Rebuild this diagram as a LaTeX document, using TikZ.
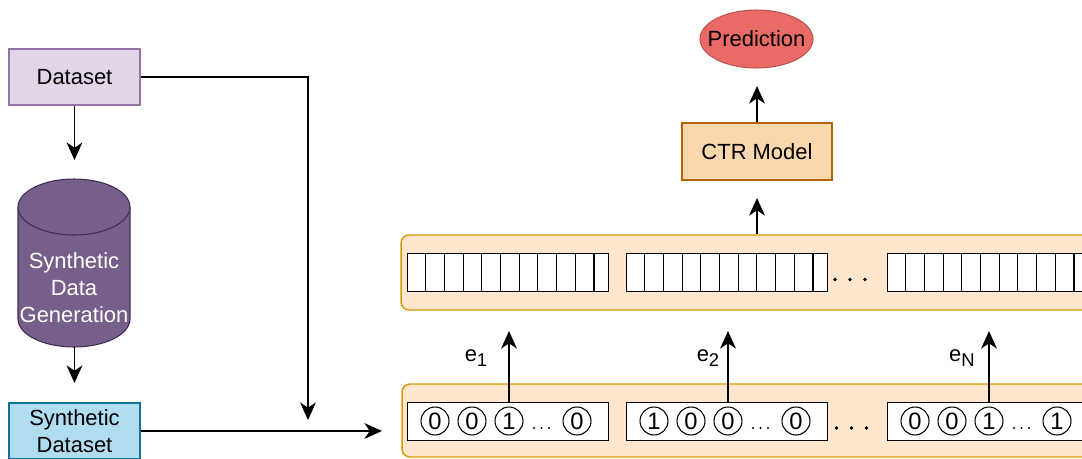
\documentclass[tikz,border=0pt]{standalone}
\usepackage{fontspec}
\setmainfont{Liberation Sans}
\usetikzlibrary{positioning,arrows.meta,calc}
\definecolor{dataFill}{HTML}{E1D5E7}
\definecolor{dataLine}{HTML}{9673A6}
\definecolor{genFill}{HTML}{76608A}
\definecolor{genLine}{HTML}{432D57}
\definecolor{synFill}{HTML}{B1DDF0}
\definecolor{synLine}{HTML}{10739E}
\definecolor{panelFill}{HTML}{FFE6CC}
\definecolor{panelLine}{HTML}{D79B00}
\definecolor{ctrFill}{HTML}{FAD7AC}
\definecolor{ctrLine}{HTML}{B46504}
\definecolor{predFill}{HTML}{EA6B66}
\definecolor{predLine}{HTML}{B85450}
\tikzset{box/.style={rectangle, draw, line width=0.6pt, align=center, inner sep=2pt}}
\tikzset{flow/.style={-{Stealth[length=10pt,width=9pt,inset=3pt]}, line width=0.85pt}}
\tikzset{panel/.style={rectangle, draw=panelLine, fill=panelFill, line width=0.8pt, rounded corners=4.5pt}}
\tikzset{cellrow/.style={rectangle, draw, fill=white, line width=0.8pt, anchor=south west, minimum width=4.02cm, minimum height=0.76cm, inner sep=0pt}}
\tikzset{bit/.style={circle, draw, line width=0.6pt, minimum size=0.56cm, inner sep=0pt, font=\fontsize{13.5}{15}\selectfont}}
\newcommand{\embsub}[1]{e\raisebox{-0.45ex}{\fontsize{10.5}{12}\selectfont #1}}

\begin{document}
\begin{tikzpicture}[x=0.02cm, y=0.02cm, font=\fontsize{12.5}{15.3}\selectfont]
\useasboundingbox (0,0) rectangle (1082,458);

% left column
\node[box, fill=dataFill, draw=dataLine, minimum width=2.62cm, minimum height=1.12cm] (data) at (74.5,381) {Dataset};
\path[draw=genLine, fill=genFill, line width=0.6pt] (18,251) -- (18,139) arc[start angle=180, end angle=360, x radius=56, y radius=28] -- (130,251);
\path[draw=genLine, fill=genFill, line width=0.6pt] (74,251) ellipse[x radius=56, y radius=28];
\node[text=white, align=center] (gen) at (74,170) {Synthetic\\Data\\Generation};
\node[box, fill=synFill, draw=synLine, minimum width=2.62cm, minimum height=1.12cm] (syn) at (74.5,27) {Synthetic\\Dataset};

\coordinate (genIn) at (74.5,298);
\coordinate (genOut) at (74.5,111);
\coordinate (synIn) at (74.5,75);
\coordinate (joinIn) at (308,38);
\coordinate (hotIn) at (382,27);

\draw[flow] (data.south) -- (genIn);
\draw[flow] (genOut) -- (synIn);
\draw[flow] (data.east) -| (joinIn);
\draw[flow] (syn.east) -- (hotIn |- syn.east);

% embedding and one-hot panels
\node[panel, minimum width=13.78cm, minimum height=1.5cm] (embPanel) at (745.5,185.5) {};
\node[panel, minimum width=13.76cm, minimum height=1.46cm] (hotPanel) at (746,37.5) {};

\foreach \gx/\n/\ba/\bb/\bc/\bd/\lx/\lab in {407/1/0/0/1/0/476/1, 626/2/1/0/0/0/708/2, 887/3/0/0/1/1/962/N} {
  \node[cellrow] (row\n) at (\gx,166) {};
  \foreach \k in {1,...,10}
    \draw[line width=0.6pt] (\gx+\k*18.7,166) -- ++(0,38);
  \node[cellrow] (hot\n) at (\gx,17) {};
  \node[bit] (bit\n-1) at (\gx+28,37) {\ba};
  \node[bit] (bit\n-2) at (\gx+65,37) {\bb};
  \node[bit] (bit\n-3) at (\gx+102,37) {\bc};
  \node[bit] (bit\n-4) at (\gx+170,37) {\bd};
  \foreach \dx in {-43,-35.5,-28}
    \fill (\gx+170+\dx,30) circle[radius=1.2];
  \coordinate (up\n) at (\gx+102,127);
  \draw[flow] (hot\n.north -| bit\n-3) -- (up\n);
  \node (lab\n) at (\lx,100) {\embsub{\lab}};
}

\foreach \dx in {835,850,865}
  \fill (\dx,178.5) circle[radius=1.8];
\foreach \dx in {836.5,851.5,866.5}
  \fill (\dx,30) circle[radius=1.8];

% model and output
\node[box, fill=ctrFill, draw=ctrLine, minimum width=3cm, minimum height=1.14cm] (ctr) at (757,306.5) {CTR Model};
\path[draw=predLine, fill=predFill, line width=0.6pt] (756.5,419) ellipse[x radius=56.5, y radius=29];
\node (pred) at (756.5,419) {Prediction};

\coordinate (ctrIn) at (757,260);
\coordinate (predIn) at (757,372);
\draw[flow] (embPanel.north -| ctr) -- (ctrIn);
\draw[flow] (ctr.north) -- (predIn);
\end{tikzpicture}
\end{document}
